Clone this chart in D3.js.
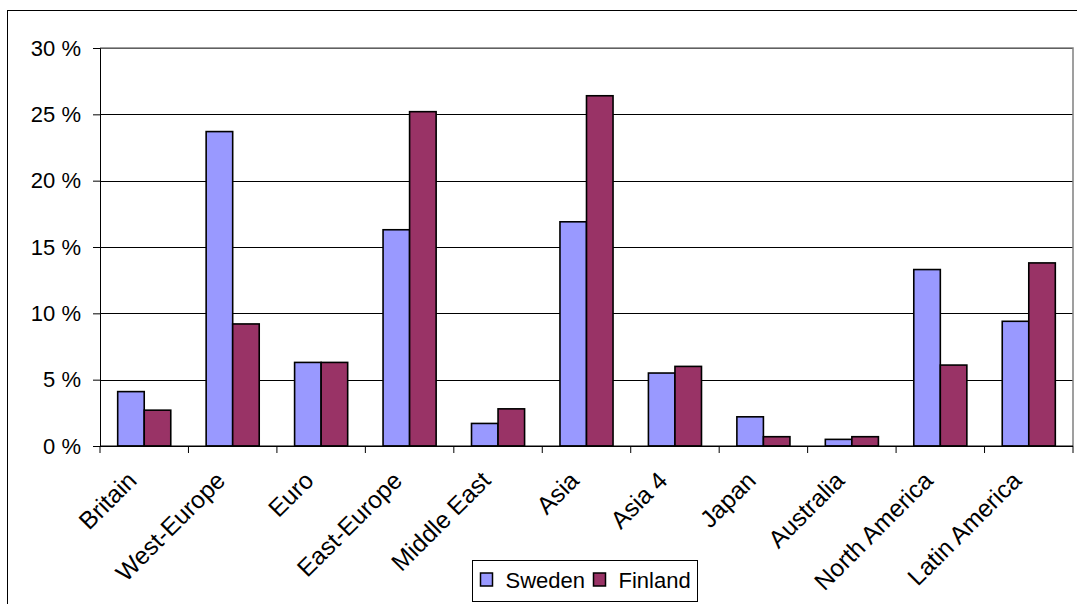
<!DOCTYPE html>
<html>
<head>
<meta charset="utf-8">
<script src="https://cdn.jsdelivr.net/npm/d3@7"></script>
<style>
  body { margin: 0; background: #fff; }
  text { font-family: "Liberation Sans", Arial, sans-serif; fill: #000; }
</style>
</head>
<body>
<svg id="chart" width="1077" height="604"></svg>
<script>
// data
const categories = ['Britain', 'West-Europe', 'Euro', 'East-Europe', 'Middle East',
  'Asia', 'Asia 4', 'Japan', 'Australia', 'North America', 'Latin America'];
const sweden  = [4.1, 23.7, 6.3, 16.3, 1.7, 16.9, 5.5, 2.2, 0.5, 13.3, 9.4];
const finland = [2.7,  9.2, 6.3, 25.2, 2.8, 26.4, 6.0, 0.7, 0.7,  6.1, 13.8];
const seriesNames = ['Sweden', 'Finland'];
const seriesColors = ['#9999ff', '#993366'];
const yTicks = [0, 5, 10, 15, 20, 25, 30];

const svg = d3.select('#chart');
const margin = {left: 100, top: 48, right: 1073, bottom: 446};

// outer chart border (runs off the right and bottom edges)
svg.append('rect')
  .attr('x', 7.5).attr('y', 10.5)
  .attr('width', 1100).attr('height', 620)
  .attr('fill', 'none').attr('stroke', '#000').attr('stroke-width', 1);

const x = d3.scaleBand()
  .domain(categories)
  .range([margin.left, margin.right])
  .padding(0);

const xs = d3.scaleBand()
  .domain(seriesNames)
  .range([x.bandwidth() * 0.2, x.bandwidth() * 0.8]);

const y = d3.scaleLinear()
  .domain([0, 30])
  .range([margin.bottom, margin.top]);

// gridlines
svg.append('g')
  .attr('class', 'grid')
  .attr('transform', `translate(${margin.left},0)`)
  .call(d3.axisLeft(y).tickValues(yTicks).tickSize(-(margin.right - margin.left)).tickFormat(''))
  .call(g => g.select('.domain').remove())
  .call(g => g.selectAll('line').attr('stroke', '#000').attr('shape-rendering', 'crispEdges'));

// plot area border (top + right, grey)
svg.append('path')
  .attr('d', `M${margin.left},${y(30)}H${margin.right}V${margin.bottom}`)
  .attr('fill', 'none').attr('stroke', '#808080').attr('stroke-width', 1.5);

// bars
const rows = categories.map((c, i) => ({cat: c, vals: [sweden[i], finland[i]]}));

svg.append('g')
  .selectAll('g')
  .data(rows)
  .join('g')
    .attr('transform', d => `translate(${x(d.cat)},0)`)
  .selectAll('rect')
  .data(d => d.vals.map((v, j) => ({key: seriesNames[j], value: v, color: seriesColors[j]})))
  .join('rect')
    .attr('x', d => xs(d.key))
    .attr('y', d => y(d.value))
    .attr('width', xs.bandwidth())
    .attr('height', d => y(0) - y(d.value))
    .attr('fill', d => d.color)
    .attr('stroke', '#000')
    .attr('stroke-width', 1.6);

// y axis
svg.append('g')
  .attr('transform', `translate(${margin.left},0)`)
  .call(d3.axisLeft(y).tickValues(yTicks).tickSize(7).tickPadding(12).tickFormat(d => d + ' %'))
  .call(g => g.selectAll('line, path').attr('stroke', '#000'))
  .call(g => g.selectAll('text').attr('font-size', 22).attr('font-family', '"Liberation Sans", Arial, sans-serif'));

// x axis: baseline + ticks between categories
const xAxis = svg.append('g');
xAxis.append('line')
  .attr('x1', margin.left).attr('x2', margin.right)
  .attr('y1', y(0)).attr('y2', y(0))
  .attr('stroke', '#000');
xAxis.selectAll('.xtick')
  .data(categories.map(c => x(c)).concat([x.range()[1]]))
  .join('line')
    .attr('class', 'xtick')
    .attr('x1', d => d).attr('x2', d => d)
    .attr('y1', y(0)).attr('y2', y(0) + 7)
    .attr('stroke', '#000');

xAxis.selectAll('.xlabel')
  .data(categories)
  .join('text')
    .attr('class', 'xlabel')
    .attr('transform', d => `translate(${x(d) + x.bandwidth() / 2 - 6},${y(0) + 36}) rotate(-45)`)
    .attr('text-anchor', 'end')
    .attr('font-size', 24.5)
    .text(d => d);

// legend
const legend = svg.append('g').attr('transform', 'translate(472.5,560.5)');
legend.append('rect')
  .attr('width', 225).attr('height', 41)
  .attr('fill', '#fff').attr('stroke', '#000');

const legendX = [8, 121];
seriesNames.forEach((s, i) => {
  legend.append('rect')
    .attr('x', legendX[i]).attr('y', 12.5)
    .attr('width', 12).attr('height', 13)
    .attr('fill', seriesColors[i]).attr('stroke', '#000').attr('stroke-width', 1.5);
  legend.append('text')
    .attr('x', legendX[i] + 25).attr('y', 27)
    .attr('font-size', 22)
    .text(s);
});
</script>
</body>
</html>
